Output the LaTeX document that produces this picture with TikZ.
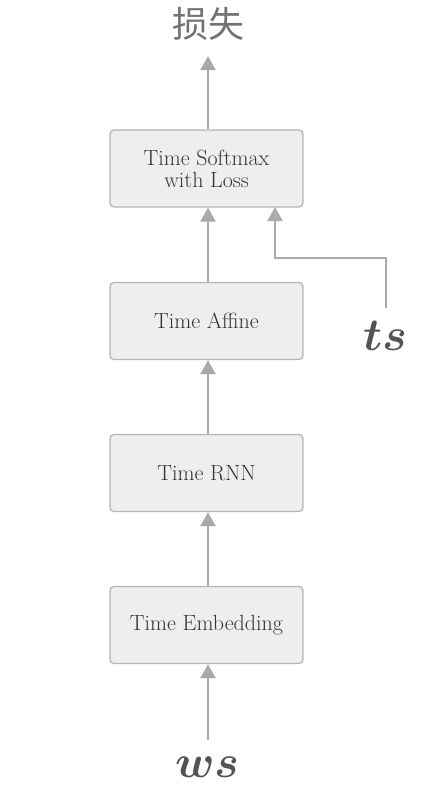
\documentclass[tikz,border=0pt]{standalone}
\usepackage{fontspec}
\usepackage{amsmath,bm}
\usetikzlibrary{arrows.meta}
\newfontfamily\cjk{Noto Sans CJK SC}
\definecolor{boxfill}{HTML}{EDEEEE}
\definecolor{boxline}{HTML}{B4B5B5}
\definecolor{arrowc}{HTML}{A9AAAA}
\definecolor{txt}{HTML}{353535}
\begin{document}
\begin{tikzpicture}[x=1pt,y=-1pt,
  layer/.style={draw=boxline, fill=boxfill, line width=1.3pt, rounded corners=4pt,
    minimum width=193pt, minimum height=77pt, inner sep=0pt, align=center,
    text=txt, font=\fontsize{22}{22}\selectfont},
  flow/.style={draw=arrowc, line width=2pt, -{Triangle[width=15pt,length=14pt]}},
  var/.style={text=txt!85!white, font=\fontsize{10}{12}\selectfont, inner sep=0pt}]
\useasboundingbox (0,0) rectangle (424,795);
\node[layer] (sm) at (206.5,168.5) {Time Softmax\\with Loss};
\node[layer] (af) at (206.5,321) {Time Affine};
\node[layer] (rnn) at (206.5,473) {Time RNN};
\node[layer] (emb) at (206.5,625) {Time Embedding};
\node[text=txt!70!white, font=\cjk\fontsize{36}{38}\selectfont, inner sep=0pt] (loss) at (208,24) {损失};
\node[var] (ws) at (207,767) {\scalebox{4.6}{$\bm{ws}$}};
\node[var] (ts) at (385,336) {\scalebox{4.6}{$\bm{ts}$}};
\coordinate (lossin) at (208,56);
\coordinate (wsout) at (208,740);
\coordinate (tsout) at (386,308);
\coordinate (bend1) at (386,258);
\coordinate (bend2) at (275,258);
\coordinate (smin) at (275,207);
\draw[flow] (wsout) -- (emb.south -| wsout);
\draw[flow] (emb.north -| wsout) -- (rnn.south -| wsout);
\draw[flow] (rnn.north -| wsout) -- (af.south -| wsout);
\draw[flow] (af.north -| wsout) -- (sm.south -| wsout);
\draw[flow] (sm.north -| wsout) -- (lossin);
\draw[flow] (tsout) -- (bend1) -- (bend2) -- (smin);
\end{tikzpicture}
\end{document}
